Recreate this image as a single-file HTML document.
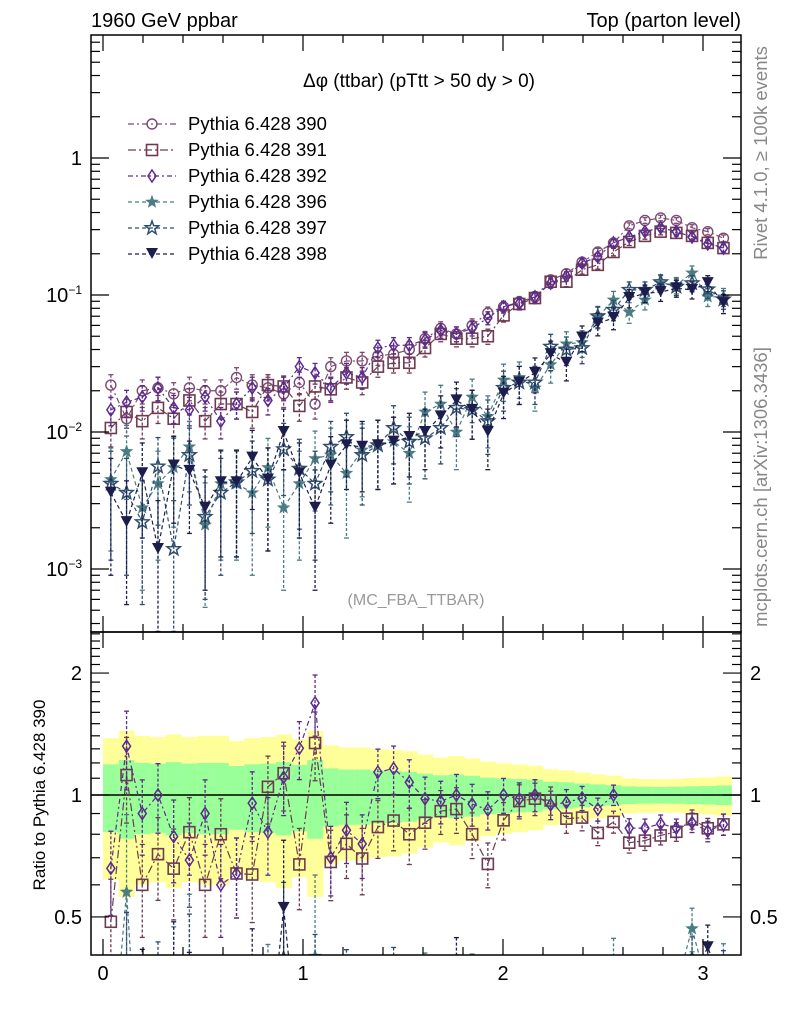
<!DOCTYPE html>
<html><head><meta charset="utf-8">
<style>
html,body{margin:0;padding:0;background:#fff;width:786px;height:1024px;overflow:hidden;}
svg{display:block;font-family:"Liberation Sans",sans-serif;overflow:hidden;}
</style></head>
<body>
<svg id="chart" width="786" height="1024" viewBox="0 0 786 1024" xmlns="http://www.w3.org/2000/svg">
<text x="91" y="27" font-size="20">1960 GeV ppbar</text>
<text x="741" y="27" font-size="20" text-anchor="end">Top (parton level)</text>
<text x="419" y="87" font-size="19" text-anchor="middle">Δφ (ttbar) (pTtt &gt; 50 dy &gt; 0)</text>
<text x="416" y="605" font-size="16" fill="#999" text-anchor="middle">(MC_FBA_TTBAR)</text>
<text transform="translate(767,153) rotate(-90)" font-size="18.5" fill="#888" text-anchor="middle">Rivet 4.1.0, ≥ 100k events</text>
<text transform="translate(767,487) rotate(-90)" font-size="18.5" fill="#888" text-anchor="middle">mcplots.cern.ch [arXiv:1306.3436]</text>
<text transform="translate(45,795) rotate(-90)" font-size="17" text-anchor="middle">Ratio to Pythia 6.428 390</text>
<g id="layer"></g>
</svg>
<script>
const categories = Array.from({length:40},(_,i)=>(i+0.5)*Math.PI/40);
const s390 = [.022,.0125,.020,.021,.019,.021,.020,.020,.025,.022,.021,.019,.023,.016,.030,.033,.033,.036,.037,.040,.048,.057,.052,.060,.074,.082,.089,.097,.129,.143,.174,.206,.24,.32,.35,.365,.35,.31,.29,.26];
const s391 = [.0107,.014,.012,.015,.0125,.017,.012,.016,.016,.014,.022,.0215,.0155,.0215,.0205,.025,.023,.030,.032,.032,.041,.052,.048,.048,.050,.071,.086,.095,.125,.125,.153,.166,.206,.244,.27,.29,.284,.27,.24,.22];
const s392 = [.0145,.0165,.018,.021,.015,.0145,.018,.012,.016,.021,.017,.021,.030,.027,.021,.027,.025,.041,.043,.043,.047,.055,.052,.057,.068,.082,.087,.097,.122,.137,.171,.19,.24,.265,.29,.31,.29,.265,.236,.22];
const s396 = [.0045,.0072,.0028,.0042,.0055,.0078,.0021,.0042,.0042,.0036,.0055,.0028,.0042,.0064,.0068,.0050,.0074,.0080,.0085,.0070,.0140,.0160,.0100,.0180,.0130,.0240,.0250,.0210,.031,.044,.045,.069,.092,.075,.092,.122,.118,.145,.097,.097];
const s397 = [.0042,.0036,.0022,.0056,.0014,.0068,.0024,.0036,.0043,.0052,.0045,.0075,.0054,.0042,.0078,.0092,.0068,.0080,.0107,.0085,.0090,.0107,.0150,.0145,.0120,.0210,.0230,.0230,.042,.040,.041,.070,.078,.109,.109,.124,.115,.122,.110,.093];
const s398 = [.0036,.0022,.0050,.0014,.0057,.0052,.0028,.0043,.0043,.0065,.0045,.0100,.0050,.0028,.0057,.0080,.0078,.0080,.0085,.0092,.0100,.0130,.0170,.0145,.0100,.0190,.0230,.0270,.037,.032,.049,.062,.068,.095,.103,.105,.112,.109,.122,.087];
const xTicks = [0,1,2,3];
const mainTicks = [1,0.1,0.01,0.001];
const mainTickLabels = ["1","10<tspan dy='-8' font-size='12'>−1</tspan>","10<tspan dy='-8' font-size='12'>−2</tspan>","10<tspan dy='-8' font-size='12'>−3</tspan>"];
const ratioTicks = [2,1,0.5];
const ratioTickLabels = ["2","1","0.5"];
const seriesNames = ["Pythia 6.428 390","Pythia 6.428 391","Pythia 6.428 392","Pythia 6.428 396","Pythia 6.428 397","Pythia 6.428 398"];

const L=91,R=741,T=35,MB=632,RB=955;
const X=v=>103+200*v;
const Y=v=>158-137*Math.log10(v);
const YR=r=>795-405*Math.log10(r);
const NS="http://www.w3.org/2000/svg";
const layer=document.getElementById('layer');
function el(tag,attrs,parent){const e=document.createElementNS(NS,tag);for(const k in attrs)e.setAttribute(k,attrs[k]);(parent||layer).appendChild(e);return e;}

const series=[
 {d:s390,c:"#7d4a74",m:"circle",dash:"6 3 2 3",ck:0.0008,name:"series-390"},
 {d:s391,c:"#6e3b52",m:"square",dash:"8 3 2 3",ck:0.0008,name:"series-391"},
 {d:s392,c:"#5b2a8f",m:"diamond",dash:"5 3 2 3",ck:0.0008,name:"series-392"},
 {d:s396,c:"#4b7c84",m:"star",dash:"4 3",ck:0.0022,name:"series-396"},
 {d:s397,c:"#2f4d6c",m:"star2",dash:"4 3",ck:0.0022,name:"series-397"},
 {d:s398,c:"#1d1d4d",m:"tri",dash:"4 3",ck:0.0022,name:"series-398"}
];
const bw=Math.PI/40;

const bands=el('g',{});


categories.forEach((x,i)=>{
  const rel=Math.min(Math.sqrt(s390[i]*0.0008)/s390[i],0.22);
  const x0=X(x-bw/2),w=200*bw+0.5;
  const y1=el('rect',{x:x0,y:YR(1+2*rel),width:w,height:YR(Math.max(1-2*rel,0.3))-YR(1+2*rel),fill:"#ffff99"},bands);
  
  
  const g1=el('rect',{x:x0,y:YR(1+rel),width:w,height:YR(1-rel)-YR(1+rel),fill:"#99ff99"},bands);
  
  
});
el('line',{x1:L,x2:R,y1:YR(1),y2:YR(1),stroke:"#000","stroke-width":1.5});

function marker(g,type,cx,cy,c){
  let e;
  if(type==="circle")e=el('circle',{cx,cy,r:5,fill:"none",stroke:c,"stroke-width":1.4},g);
  else if(type==="square")e=el('rect',{x:cx-5.5,y:cy-5.5,width:11,height:11,fill:"none",stroke:c,"stroke-width":1.6},g);
  else if(type==="diamond")e=el('polygon',{points:`${cx},${cy-6} ${cx+4},${cy} ${cx},${cy+6} ${cx-4},${cy}`,fill:"none",stroke:c,"stroke-width":1.5},g);
  else if(type==="tri")e=el('polygon',{points:`${cx-6},${cy-6} ${cx+6},${cy-6} ${cx},${cy+5}`,fill:c},g);
  else{const r1=type==="star"?5:7,r2=r1*0.42;let p=[];for(let k=0;k<10;k++){const a=-Math.PI/2+k*Math.PI/5,r=k%2?r2:r1;p.push((cx+r*Math.cos(a)).toFixed(1)+","+(cy+r*Math.sin(a)).toFixed(1));}
    e=el('polygon',{points:p.join(" "),fill:type==="star"?c:"none",stroke:c,"stroke-width":1.5},g);}
  return e;
}

const defs=el('defs',{});
const cp1=el('clipPath',{id:"cmain"},defs);el('rect',{x:L,y:T,width:R-L,height:MB-T},cp1);
const cp2=el('clipPath',{id:"cratio"},defs);el('rect',{x:L,y:MB,width:R-L,height:RB-MB},cp2);

series.forEach(s=>{
  const g=el('g',{"clip-path":"url(#cmain)"});
  
  
  const gr=el('g',{"clip-path":"url(#cratio)"});
  
  
  let pts=[],rpts=[];
  s.d.forEach((v,i)=>{
    const x=X(categories[i]),y=Y(v),err=Math.sqrt(v*s.ck);
    const lo=Math.max(v-err,v*0.25);
    pts.push(x+","+y);
    const eb=el('line',{x1:x,x2:x,y1:Y(v+err),y2:Y(lo),stroke:s.c,"stroke-width":1.3,"stroke-dasharray":"3 2"},g);
    
    
    el('line',{x1:x-2.5,x2:x+2.5,y1:Y(v+err),y2:Y(v+err),stroke:s.c,"stroke-width":1.3},g);
    el('line',{x1:x-2.5,x2:x+2.5,y1:Y(lo),y2:Y(lo),stroke:s.c,"stroke-width":1.3},g);
    const m=marker(g,s.m,x,y,s.c);
    
    
    if(s.name!=="series-390"){
      const r=v/s390[i],re=err/s390[i],yr=YR(r),rlo=Math.max(r-re,r*0.25);
      rpts.push(x+","+yr);
      el('line',{x1:x,x2:x,y1:YR(r+re),y2:YR(rlo),stroke:s.c,"stroke-width":1.3,"stroke-dasharray":"3 2"},gr);
      el('line',{x1:x-2.5,x2:x+2.5,y1:YR(r+re),y2:YR(r+re),stroke:s.c,"stroke-width":1.3},gr);
      el('line',{x1:x-2.5,x2:x+2.5,y1:YR(rlo),y2:YR(rlo),stroke:s.c,"stroke-width":1.3},gr);
      const rm=marker(gr,s.m,x,yr,s.c);
      
      
    }
  });
  el('polyline',{points:pts.join(" "),fill:"none",stroke:s.c,"stroke-width":1.2,"stroke-dasharray":s.dash},g);
  if(rpts.length) el('polyline',{points:rpts.join(" "),fill:"none",stroke:s.c,"stroke-width":1.2,"stroke-dasharray":s.dash},gr);
});

const f1=el('rect',{x:L,y:T,width:R-L,height:MB-T,fill:"none",stroke:"#000","stroke-width":1.5});


const f2=el('rect',{x:L,y:MB,width:R-L,height:RB-MB,fill:"none",stroke:"#000","stroke-width":1.5});



for(let k=0;k<=15;k++){const v=k*0.2;if(v>3.19)break;const x=X(v);const major=Math.abs(v-Math.round(v))<1e-6;const len=major?16:8;
  [[T,1],[MB,-1],[MB,1],[RB,-1]].forEach(([y0,dir])=>el('line',{x1:x,x2:x,y1:y0,y2:y0+dir*len,stroke:"#000","stroke-width":1.2}));}
xTicks.forEach(v=>{const t=el('text',{x:X(v),y:980,"font-size":20,"text-anchor":"middle"});t.textContent=v;
  
  });

for(let e=-4;e<=0;e++){for(let m=1;m<=9;m++){const v=m*Math.pow(10,e);const y=Y(v);if(y<T||y>MB)continue;const len=m===1?18:9;
  el('line',{x1:L,x2:L+len,y1:y,y2:y,stroke:"#000","stroke-width":1.2});el('line',{x1:R,x2:R-len,y1:y,y2:y,stroke:"#000","stroke-width":1.2});}}
mainTicks.forEach((v,i)=>{const t=el('text',{x:82,y:Y(v)+7,"font-size":20,"text-anchor":"end"});t.innerHTML=mainTickLabels[i];
  
  });

[0.4,0.5,0.6,0.7,0.8,0.9,1,1.1,1.2,1.3,1.4,1.5,1.6,1.7,1.8,1.9,2,2.1,2.2,2.3,2.4,2.5].forEach(v=>{const y=YR(v);if(y<MB||y>RB)return;const len=(v===0.5||v===1||v===2)?18:9;
  el('line',{x1:L,x2:L+len,y1:y,y2:y,stroke:"#000","stroke-width":1.2});el('line',{x1:R,x2:R-len,y1:y,y2:y,stroke:"#000","stroke-width":1.2});});
ratioTicks.forEach((v,i)=>{const t=el('text',{x:82,y:YR(v)+7,"font-size":20,"text-anchor":"end"});t.textContent=ratioTickLabels[i];
  
  
  const t2=el('text',{x:750,y:YR(v)+7,"font-size":20});t2.textContent=ratioTickLabels[i];
  
  });

series.forEach((s,i)=>{const y=124+i*26;const g=el('g',{});
  
  
  el('line',{x1:128,x2:176,y1:y,y2:y,stroke:s.c,"stroke-width":1.2,"stroke-dasharray":s.dash},g);
  marker(g,s.m,152,y,s.c);
  const t=el('text',{x:188,y:y+6,"font-size":18.5},g);t.textContent=seriesNames[i];});
</script>
</body></html>
